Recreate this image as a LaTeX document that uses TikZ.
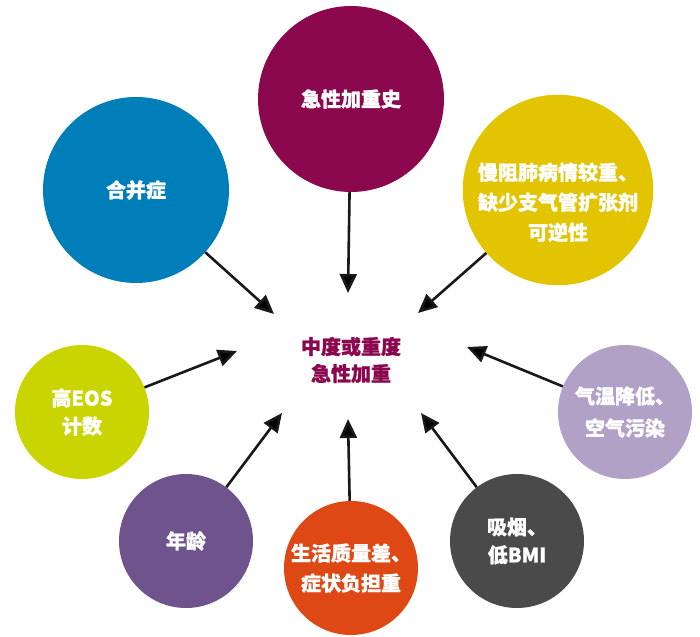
\documentclass[tikz,border=0pt]{standalone}
\usepackage{fontspec}
\setmainfont{Noto Sans CJK SC}[BoldFeatures={FakeBold=1}]
\usetikzlibrary{positioning, arrows.meta}

\definecolor{plum}{RGB}{139,8,78}
\definecolor{ocean}{RGB}{0,126,186}
\definecolor{mustard}{RGB}{226,196,0}
\definecolor{lime}{RGB}{202,212,0}
\definecolor{lilac}{RGB}{178,161,198}
\definecolor{grape}{RGB}{111,83,140}
\definecolor{rust}{RGB}{221,72,20}
\definecolor{slate}{RGB}{74,74,74}

\begin{document}
\begin{tikzpicture}[x=1pt, y=1pt, on grid, font=\bfseries\fontsize{20}{28}\selectfont,
    bubble/.style={circle, fill=#1, text=white, align=center, inner sep=0pt},
    big/.style={minimum size=186pt},
    small/.style={minimum size=134pt},
    arr/.style={-{Triangle[length=19pt, width=17pt]}, line width=2.6pt, draw=black!90}]
    \useasboundingbox (0,0) rectangle (700,-636);

    \node[text=plum, align=center, font=\bfseries\fontsize{20}{27}\selectfont] (ctr) at (351,-360) {中度或重度\\急性加重};

    \node[bubble=plum, big] (hist) [above=261pt of ctr] {急性加重史};
    \node[bubble=ocean, big] (comorb) [above left=170pt and 215pt of ctr] {合并症};
    \node[bubble=mustard, big, font=\bfseries\fontsize{20}{30}\selectfont] (copd) [above right=170pt and 207pt of ctr] {\mbox{}\\[12pt]慢阻肺病情较重、\\缺少支气管扩张剂\\可逆性};
    \node[bubble=lime, small] (eos) [below left=52pt and 269pt of ctr] {高EOS\\计数};
    \node[bubble=lilac, small, font=\bfseries\fontsize{20}{32}\selectfont] (climate) [below right=52pt and 274pt of ctr] {气温降低、\\空气污染};
    \node[bubble=grape, small] (age) [below left=181pt and 165pt of ctr] {年龄};
    \node[bubble=rust, small, font=\bfseries\fontsize{20}{30}\selectfont] (qol) [below=208pt of ctr] {生活质量差、\\症状负担重};
    \node[bubble=slate, small] (smoke) [below right=181pt and 166pt of ctr] {吸烟、\\低BMI};

    % arrow tips round the centre
    \coordinate[above left=46pt and 77pt of ctr] (t1);
    \coordinate[above left=67pt and 3pt of ctr] (t2);
    \coordinate[above right=47pt and 67pt of ctr] (t3);
    \coordinate[below left=-9pt and 114pt of ctr] (t4);
    \coordinate[below right=-13pt and 116pt of ctr] (t5);
    \coordinate[below left=53pt and 69pt of ctr] (t6);
    \coordinate[below left=59pt and 3pt of ctr] (t7);
    \coordinate[below right=53pt and 70pt of ctr] (t8);

    \path[arr]
    (comorb) edge (t1)
    (hist) edge (t2)
    (copd) edge (t3)
    (eos) edge (t4)
    (climate) edge (t5)
    (age) edge (t6)
    (qol) edge (t7)
    (smoke) edge (t8);
\end{tikzpicture}
\end{document}
